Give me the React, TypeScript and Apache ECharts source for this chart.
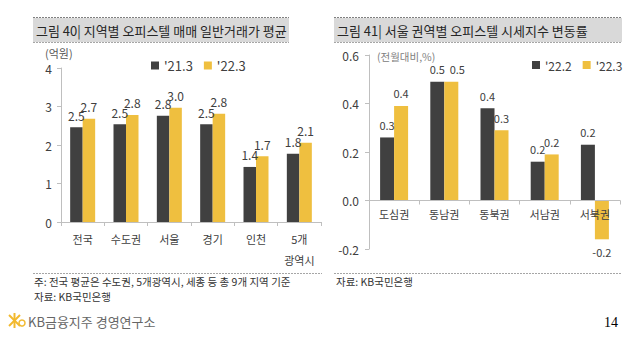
import React, { useEffect, useRef } from "react";
import * as echarts from "echarts";

const leftCategories = ["전국", "수도권", "서울", "경기", "인천", "5개\n광역시"];
const leftSeriesNames = ["'21.3", "'22.3"];
const left21 = [2.46, 2.54, 2.76, 2.54, 1.43, 1.77];
const left22 = [2.68, 2.78, 2.97, 2.81, 1.71, 2.06];

const rightCategories = ["도심권", "동남권", "동북권", "서남권", "서북권"];
const rightSeriesNames = ["'22.2", "'22.3"];
const right222 = [0.26, 0.49, 0.38, 0.16, 0.23];
const right223 = [0.39, 0.49, 0.29, 0.19, -0.16];

const leftTitle = "그림 40| 지역별 오피스텔 매매 일반거래가 평균";
const rightTitle = "그림 41| 서울 권역별 오피스텔 시세지수 변동률";
const leftUnit = "(억원)";
const rightUnit = "(전월대비,%)";
const leftNote1 = "주: 전국 평균은 수도권, 5개광역시, 세종 등 총 9개 지역 기준";
const leftNote2 = "자료: KB국민은행";
const rightNote = "자료: KB국민은행";
const logoText = "KB금융지주 경영연구소";
const pageNum = "14";

const FONT = "'Noto Sans CJK KR', 'Noto Sans', sans-serif";
const DARK = "#404040";
const YELLOW = "#efbf3f";
const AXIS = "#bfbfbf";
const TXT = "#404040";

const RIGHT_MIN = -0.2;
const RIGHT_MAX = 0.6;
const RIGHT_GRID_H = 194;

export default function App() {
  const ref = useRef<HTMLDivElement>(null);
  useEffect(() => {
    if (!ref.current) return;
    const chart = echarts.init(ref.current, null, { renderer: "svg" });
    const fmt = (p: any) => Number(p.value).toFixed(1);
    const titleBar = (x: number, w: number, text: string) => [
      { type: "rect", shape: { x, y: 18, width: w, height: 24 }, style: { fill: "#d9d9d9" } },
      { type: "line", shape: { x1: x, y1: 17.5, x2: x + w, y2: 17.5 }, style: { stroke: "#808080", lineWidth: 1, lineDash: [2, 1] } },
      { type: "line", shape: { x1: x, y1: 42.5, x2: x + w, y2: 42.5 }, style: { stroke: "#a6a6a6", lineWidth: 1, lineDash: [2, 1] } },
      { type: "text", x: x + 3, y: 30, style: { text, font: `13px ${FONT}`, fill: "#262626", verticalAlign: "middle" } },
    ];
    // pixel distance between the bottom of the right grid (min) and zero
    const zeroOffset = -((0 - RIGHT_MIN) / (RIGHT_MAX - RIGHT_MIN)) * RIGHT_GRID_H;
    const option: any = {
      animation: false,
      textStyle: { fontFamily: FONT },
      legend: [
        {
          data: leftSeriesNames,
          left: 146,
          top: 54,
          icon: "rect",
          itemWidth: 8,
          itemHeight: 8,
          itemGap: 11,
          textStyle: { fontSize: 13, color: TXT, fontFamily: FONT },
        },
        {
          data: rightSeriesNames,
          left: 527,
          top: 54,
          icon: "rect",
          itemWidth: 8,
          itemHeight: 8,
          itemGap: 11,
          textStyle: { fontSize: 12, color: TXT, fontFamily: FONT },
        },
      ],
      grid: [
        { left: 61, top: 68, width: 260, height: 154 },
        { left: 369, top: 55, width: 251, height: RIGHT_GRID_H },
      ],
      xAxis: [
        {
          type: "category",
          gridIndex: 0,
          data: leftCategories,
          axisLine: { lineStyle: { color: AXIS } },
          axisTick: { show: true, length: 4, lineStyle: { color: AXIS } },
          axisLabel: { color: TXT, fontSize: 11, margin: 6, lineHeight: 21, fontFamily: FONT, interval: 0 },
        },
        {
          type: "category",
          gridIndex: 1,
          data: rightCategories,
          position: "bottom",
          offset: zeroOffset,
          z: 5,
          axisLine: { onZero: false, lineStyle: { color: AXIS } },
          axisTick: { show: true, length: 4, lineStyle: { color: AXIS } },
          axisLabel: { color: TXT, fontSize: 11, margin: 8, fontFamily: FONT, interval: 0 },
        },
      ],
      yAxis: [
        {
          type: "value",
          gridIndex: 0,
          min: 0,
          max: 4,
          interval: 1,
          axisLine: { show: true, lineStyle: { color: AXIS } },
          axisTick: { show: true, length: 4, lineStyle: { color: AXIS } },
          splitLine: { show: false },
          axisLabel: { color: TXT, fontSize: 12, margin: 9, fontFamily: FONT },
        },
        {
          type: "value",
          gridIndex: 1,
          min: RIGHT_MIN,
          max: RIGHT_MAX,
          interval: 0.2,
          axisLine: { show: true, lineStyle: { color: AXIS } },
          axisTick: { show: true, length: 4, lineStyle: { color: AXIS } },
          splitLine: { show: false },
          axisLabel: { color: TXT, fontSize: 12, margin: 10, fontFamily: FONT, formatter: (v: number) => v.toFixed(1) },
        },
      ],
      series: [
        {
          name: leftSeriesNames[0],
          type: "bar",
          xAxisIndex: 0,
          yAxisIndex: 0,
          data: left21,
          barWidth: 12.5,
          barGap: "0%",
          itemStyle: { color: DARK },
          label: { show: true, position: "top", distance: 6, formatter: fmt, fontSize: 12, color: TXT, fontFamily: FONT },
        },
        {
          name: leftSeriesNames[1],
          type: "bar",
          xAxisIndex: 0,
          yAxisIndex: 0,
          data: left22,
          barWidth: 12.5,
          barGap: "0%",
          itemStyle: { color: YELLOW },
          label: { show: true, position: "top", distance: 6, formatter: fmt, fontSize: 12, color: TXT, fontFamily: FONT },
        },
        {
          name: rightSeriesNames[0],
          type: "bar",
          xAxisIndex: 1,
          yAxisIndex: 1,
          data: right222,
          barWidth: 14,
          barGap: "0%",
          itemStyle: { color: DARK },
          label: { show: true, position: "outside", distance: 7, formatter: fmt, fontSize: 11, color: TXT, fontFamily: FONT },
        },
        {
          name: rightSeriesNames[1],
          type: "bar",
          xAxisIndex: 1,
          yAxisIndex: 1,
          data: right223.map((v, i) => (i === 1 ? { value: v, label: { offset: [6, 0] } } : v)),
          barWidth: 14,
          barGap: "0%",
          itemStyle: { color: YELLOW },
          label: { show: true, position: "outside", distance: 7, formatter: fmt, fontSize: 11, color: TXT, fontFamily: FONT },
        },
      ],
      graphic: [
        ...titleBar(33, 256, leftTitle),
        ...titleBar(334, 288, rightTitle),
        { type: "text", x: 45, y: 53, style: { text: leftUnit, font: `11px ${FONT}`, fill: "#595959", verticalAlign: "middle" } },
        { type: "text", x: 377, y: 56, style: { text: rightUnit, font: `10.5px ${FONT}`, fill: "#808080", verticalAlign: "middle" } },
        { type: "line", shape: { x1: 33, y1: 273.5, x2: 322, y2: 273.5 }, style: { stroke: "#a6a6a6", lineWidth: 1, lineDash: [2, 1] } },
        { type: "line", shape: { x1: 334, y1: 273.5, x2: 622, y2: 273.5 }, style: { stroke: "#a6a6a6", lineWidth: 1, lineDash: [2, 1] } },
        { type: "text", x: 34, y: 281, style: { text: leftNote1, font: `10.5px ${FONT}`, fill: "#333", verticalAlign: "middle" } },
        { type: "text", x: 34, y: 296, style: { text: leftNote2, font: `10.5px ${FONT}`, fill: "#333", verticalAlign: "middle" } },
        { type: "text", x: 336, y: 281, style: { text: rightNote, font: `10.5px ${FONT}`, fill: "#333", verticalAlign: "middle" } },
        { type: "line", shape: { x1: 9, y1: 315, x2: 20, y2: 326 }, style: { stroke: "#f2b92e", lineWidth: 2 } },
        { type: "line", shape: { x1: 9, y1: 326, x2: 20, y2: 315 }, style: { stroke: "#f2b92e", lineWidth: 2 } },
        { type: "line", shape: { x1: 14.5, y1: 313, x2: 14.5, y2: 328 }, style: { stroke: "#f2b92e", lineWidth: 2 } },
        { type: "circle", shape: { cx: 22, cy: 323, r: 3 }, style: { fill: "none", stroke: "#f2b92e", lineWidth: 1.5 } },
        { type: "text", x: 28, y: 321, style: { text: logoText, font: `13px ${FONT}`, fill: "#666", verticalAlign: "middle" } },
        { type: "text", x: 604, y: 322, style: { text: pageNum, font: `14px 'Liberation Serif', 'DejaVu Serif', serif`, fill: "#000", verticalAlign: "middle" } },
      ],
    };
    chart.setOption(option);
    return () => chart.dispose();
  }, []);
  return (
    <div
      ref={ref}
      style={{ position: "absolute", left: 0, top: 0, width: 638, height: 346, background: "#fff" }}
    />
  );
}
